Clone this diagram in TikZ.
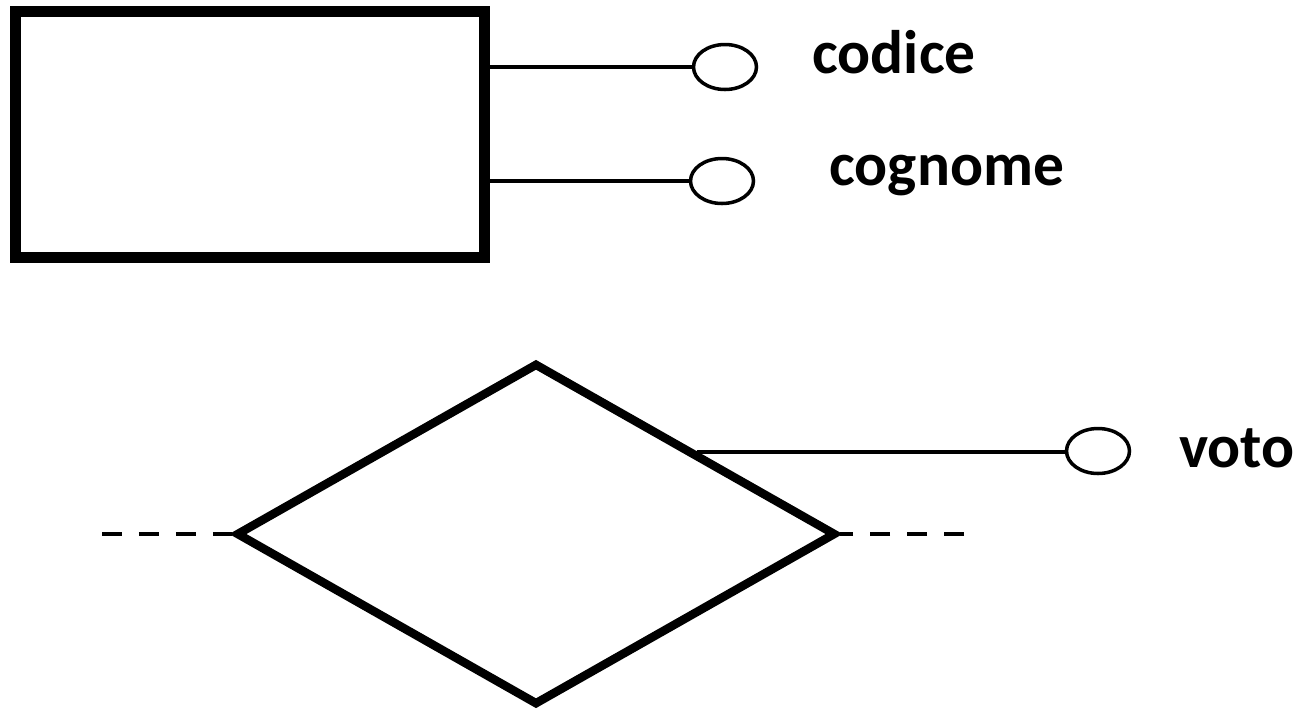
\documentclass[tikz,border=0pt]{standalone}
\usepackage{fontspec}
\setmainfont{Carlito}
\usepackage{tikz}
\usetikzlibrary{positioning,shapes.geometric}
\tikzset{
    entity/.style = {
        draw,
        shape=rectangle,
        minimum height=4.92cm,
        minimum width=9.39cm,
        inner sep=0pt,
        line width=0.22cm
    },
    relation/.style = {
        draw,
        shape=diamond,
        minimum height=6.84cm,
        minimum width=12cm,
        inner sep=0pt,
        line width=0.17cm
    },
    attrib/.style = {
        draw,
        shape=ellipse,
        minimum height=0.9cm,
        minimum width=1.26cm,
        inner sep=0pt,
        line width=2pt
    },
    attlabel/.style = {
        anchor=base west,
        inner sep=0pt,
        font=\bfseries\fontsize{35}{42}\selectfont
    },
    link/.style = {
        line width=0.09cm
    },
    partial/.style = {
        line width=0.09cm,
        dash pattern=on 0.4cm off 0.34cm
    },
}

\begin{document}
\begin{tikzpicture}[x=0.02cm, y=-0.02cm]
            \useasboundingbox (0,0) rectangle (1302,711);

            \node[entity] (studente) at (250, 134.5) {};
            \node[attrib] (codice) at (725, 67) {};
            \node[attrib] (cognome) at (722, 181) {};
            \node[attlabel] (codicelab) at (812, 73) {codice};
            \node[attlabel] (cognomelab) at (829, 185) {cognome};

            \node[relation] (esame) at (536, 534) {};
            \node[attrib] (voto) at (1098, 451) {};
            \node[attlabel] (votolab) at (1179, 467) {voto};
            \coordinate (sx) at (102, 534);
            \coordinate (dx) at (964, 534);

            \path[draw, link] (codice.west -| studente.east) -- (codice.west);
            \path[draw, link] (cognome.west -| studente.east) -- (cognome.west);
            \path[draw, link] (esame.27) -- (esame.27 -| voto.west);
            \path[draw, partial] (sx) -- (esame.west);
            \path[draw, partial] (dx) -- (esame.east);
        \end{tikzpicture}
\end{document}
